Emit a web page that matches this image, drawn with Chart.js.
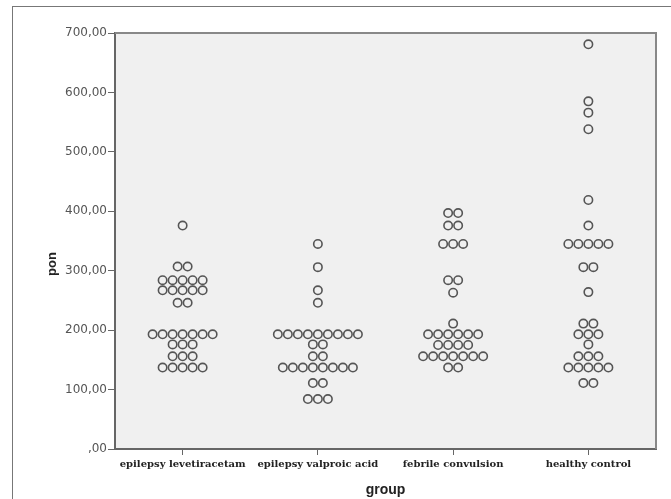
<!DOCTYPE html>
<html>
<head>
<meta charset="utf-8">
<script src="https://cdn.jsdelivr.net/npm/chart.js@4"></script>
<style>
  body { margin: 0; background: #fff; }
  canvas { display: block; }
</style>
</head>
<body>
<canvas id="myChart" width="671" height="499"></canvas>
<script>
// categories and the values of each group
var groups = ['epilepsy levetiracetam', 'epilepsy valproic acid', 'febrile convulsion', 'healthy control'];

var levetiracetam = [376, 307, 307, 284, 284, 284, 284, 284, 267, 267, 267, 267, 267, 246, 246,
    193, 193, 193, 193, 193, 193, 193, 176, 176, 176, 156, 156, 156, 137, 137, 137, 137, 137];
var valproic = [345, 306, 267, 246, 193, 193, 193, 193, 193, 193, 193, 193, 193, 176, 176, 156, 156,
    137, 137, 137, 137, 137, 137, 137, 137, 111, 111, 84, 84, 84];
var febrile = [397, 397, 376, 376, 345, 345, 345, 284, 284, 263, 211, 193, 193, 193, 193, 193, 193,
    175, 175, 175, 175, 156, 156, 156, 156, 156, 156, 156, 137, 137];
var healthy = [681, 585, 566, 538, 419, 376, 345, 345, 345, 345, 345, 306, 306, 264, 211, 211,
    193, 193, 193, 176, 156, 156, 156, 137, 137, 137, 137, 137, 111, 111];

var yTicks = [0, 100, 200, 300, 400, 500, 600, 700];

var allGroups = [levetiracetam, valproic, febrile, healthy];

// lay equal values side by side around the group centre
var dotStep = 0.074;
function swarm(values, groupIndex) {
    var counts = {};
    values.forEach(function (v) { counts[v] = (counts[v] || 0) + 1; });
    var seen = {};
    return values.map(function (v) {
        var i = seen[v] || 0;
        seen[v] = i + 1;
        return { x: groupIndex + 1 + (i - (counts[v] - 1) / 2) * dotStep, y: v };
    });
}

var points = [];
allGroups.forEach(function (vals, gi) { points = points.concat(swarm(vals, gi)); });

var frame = {
    id: 'frame',
    beforeDraw: function (chart) {
        var c = chart.ctx, a = chart.chartArea;
        c.save();
        c.fillStyle = '#fff';
        c.fillRect(0, 0, chart.width, chart.height);
        c.fillStyle = '#f0f0f0';
        c.fillRect(a.left, a.top, a.right - a.left, a.bottom - a.top);
        c.strokeStyle = '#777';
        c.lineWidth = 1;
        c.strokeRect(12.5, 6.5, 800, 800);
        c.restore();
    },
    afterDraw: function (chart) {
        var c = chart.ctx, a = chart.chartArea;
        c.save();
        c.strokeStyle = '#888';
        c.lineWidth = 2;
        c.beginPath();
        c.moveTo(a.left, a.top);
        c.lineTo(a.right, a.top);
        c.lineTo(a.right, a.bottom);
        c.stroke();
        c.fillStyle = '#222';
        c.textAlign = 'center';
        c.textBaseline = 'middle';
        c.font = 'bold 14px "Liberation Sans"';
        c.fillText('group', (a.left + a.right) / 2, 490);
        c.translate(52, 264);
        c.rotate(-Math.PI / 2);
        c.font = 'bold 13px "Liberation Sans"';
        c.fillText('pon', 0, 0);
        c.restore();
    }
};

var ctx = document.getElementById('myChart').getContext('2d');
var myChart = new Chart(ctx, {
    type: 'scatter',
    data: {
        datasets: [{
            label: 'pon',
            data: points,
            pointRadius: 4.2,
            pointHoverRadius: 4.2,
            pointBorderWidth: 1.6,
            borderColor: '#555',
            backgroundColor: 'rgba(0,0,0,0)'
        }]
    },
    options: {
        responsive: false,
        animation: false,
        devicePixelRatio: 1,
        layout: { padding: { top: 33, right: 15, left: 0, bottom: 0 } },
        plugins: { legend: { display: false }, tooltip: { enabled: false } },
        scales: {
            x: {
                type: 'linear',
                min: 0.5,
                max: 4.5,
                afterFit: function (s) { s.height = 50; },
                afterBuildTicks: function (s) {
                    s.ticks = groups.map(function (g, i) { return { value: i + 1 }; });
                },
                ticks: {
                    color: '#222',
                    padding: 3,
                    maxRotation: 0,
                    autoSkip: false,
                    font: { family: 'DejaVu Serif', weight: 'bold', size: 10 },
                    callback: function (v) { return groups[v - 1] || ''; }
                },
                grid: { drawOnChartArea: false, drawTicks: true, tickLength: 6, color: '#666', lineWidth: 1 },
                border: { display: true, color: '#666', width: 2 }
            },
            y: {
                min: 0,
                max: 700,
                afterFit: function (s) { s.width = 115; },
                afterBuildTicks: function (s) {
                    s.ticks = yTicks.map(function (v) { return { value: v }; });
                },
                ticks: {
                    color: '#555',
                    padding: 1,
                    font: { family: 'DejaVu Sans', size: 12 },
                    callback: function (v) { return v === 0 ? ',00' : v + ',00'; }
                },
                grid: { drawOnChartArea: false, drawTicks: true, tickLength: 7, color: '#666', lineWidth: 1 },
                border: { display: true, color: '#666', width: 2 }
            }
        }
    },
    plugins: [frame]
});
</script>
</body>
</html>
